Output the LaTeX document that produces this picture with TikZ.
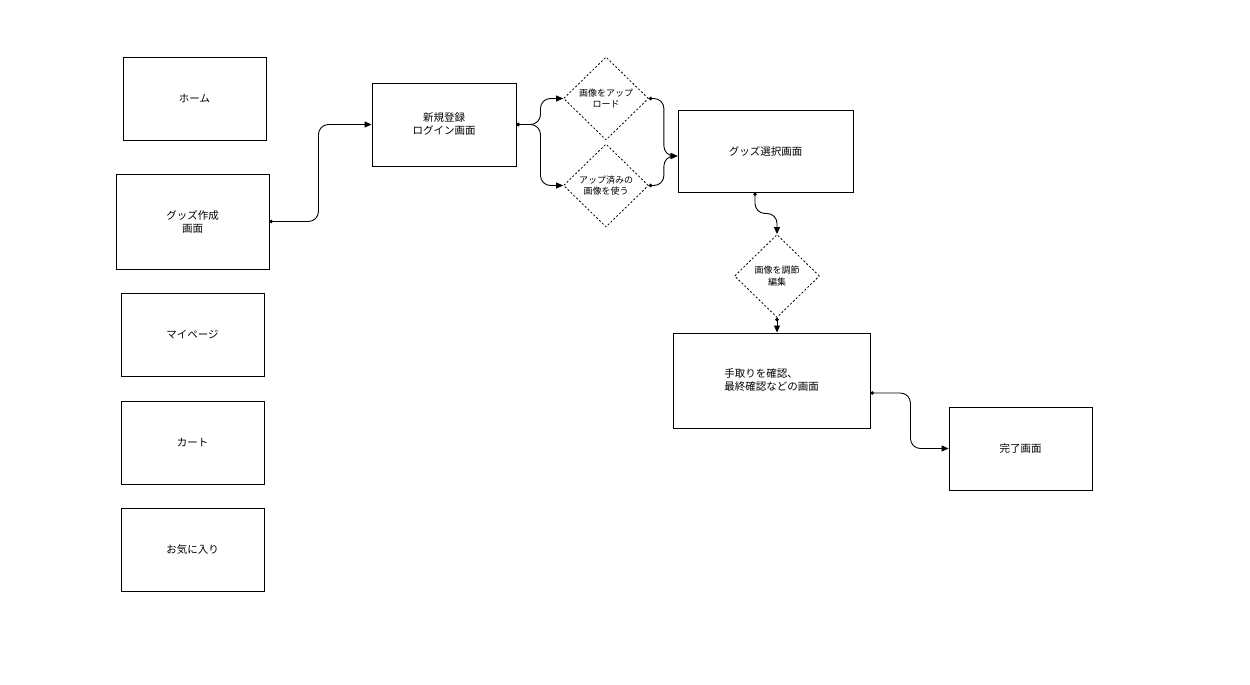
\documentclass[tikz,border=0pt]{standalone}
\usepackage{fontspec}
\newfontfamily\jp{Noto Sans CJK JP}
\usetikzlibrary{arrows.meta,shapes.geometric}
\begin{document}
\begin{tikzpicture}[x=1pt,y=-1pt,
  box/.style={draw=black,line width=0.9pt,rectangle,inner sep=0pt,align=center,font=\jp\fontsize{10.5}{13}\selectfont},
  dia/.style={draw=black,line width=0.8pt,dash pattern=on 2pt off 2pt,diamond,aspect=1,inner sep=0pt,align=center,font=\jp\fontsize{9}{11.5}\selectfont,minimum width=85pt,minimum height=83pt},
  conn/.style={draw=black,line width=0.9pt,rounded corners=10pt,{Circle[length=3.5pt]}-{Triangle[length=7pt,width=6pt]}}]
\useasboundingbox (0,0) rectangle (1250,685);
% left column
\node[box,minimum width=143pt,minimum height=83pt] (home) at (194.5,98.5) {ホーム};
\node[box,minimum width=153pt,minimum height=95pt] (goods) at (192.5,221.5) {グッズ作成\\画面};
\node[box,minimum width=143pt,minimum height=83pt] (mypage) at (192.5,334.5) {マイページ};
\node[box,minimum width=143pt,minimum height=83pt] (cart) at (192.5,442.5) {カート};
\node[box,minimum width=143pt,minimum height=83pt] (fav) at (192.5,549.5) {お気に入り};
% flow
\node[box,minimum width=144pt,minimum height=83pt] (login) at (444,124.5) {新規登録\\ログイン画面};
\node[dia] (up) at (606,98.5) {画像をアップ\\ロード};
\node[dia] (used) at (606,185.5) {アップ済みの\\画像を使う};
\node[box,minimum width=175pt,minimum height=82pt] (sel) at (765.5,151) {グッズ選択画面};
\node[dia] (edit) at (777,276) {画像を調節\\編集};
\node[box,minimum width=197pt,minimum height=95pt,align=left] (conf) at (771.5,380.5) {手取りを確認、\\最終確認などの画面};
\node[box,minimum width=143pt,minimum height=83pt] (done) at (1020.5,448.5) {完了画面};
% connectors
\draw[conn] (goods.east) -- ++(49,0) |- (login.west);
\draw[conn] (login.east) -- ++(24,0) |- (up.west);
\draw[conn] (login.east) -- ++(24,0) |- (used.west);
\draw[conn] (up.east) -- ++(15,0) |- ([yshift=-5pt]sel.west);
\draw[conn] (used.east) -- ++(15,0) |- ([yshift=-5pt]sel.west);
\draw[conn] ([xshift=-10.5pt]sel.south) -- ++(0,21) -| (edit.north);
\draw[conn] (edit.south) -- (edit.south |- conf.north);
\draw[conn] ([yshift=-12.5pt]conf.east) -- ++(40,0) |- (done.west);
\end{tikzpicture}
\end{document}
